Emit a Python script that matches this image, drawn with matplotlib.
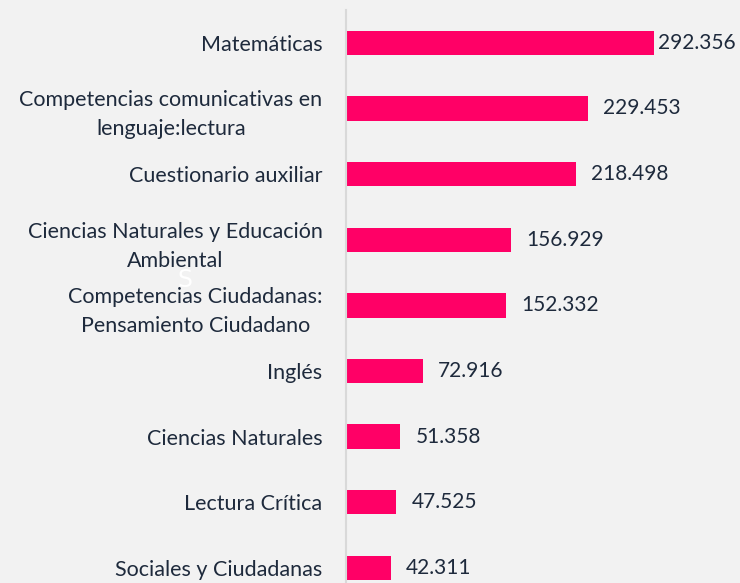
import matplotlib.pyplot as plt

categories = ["Matemáticas",
              "Competencias comunicativas en\nlenguaje:lectura",
              "Cuestionario auxiliar",
              "Ciencias Naturales y Educación\nAmbiental",
              "Competencias Ciudadanas:\nPensamiento Ciudadano",
              "Inglés",
              "Ciencias Naturales",
              "Lectura Crítica",
              "Sociales y Ciudadanas"]
values = [292356, 229453, 218498, 156929, 152332, 72916, 51358, 47525, 42311]
value_labels = ["292.356", "229.453", "218.498", "156.929", "152.332",
                "72.916", "51.358", "47.525", "42.311"]

bg = "#F2F2F2"
txt = "#1E2A3C"

plt.rcParams['font.family'] = ['Lato', 'DejaVu Sans']

fig = plt.figure(figsize=(7.4, 5.83), dpi=100, facecolor=bg)
ax = fig.add_axes([346 / 740, 0, 1 - 346 / 740, 1 - 10 / 583])
ax.set_facecolor(bg)

y = list(range(len(categories)))
ax.barh(y, values, height=0.37, color="#FF0066")

ax.set_ylim(8.23, -0.5)
ax.set_xlim(0, 292356 * 394 / 308)

for s in ["top", "right", "bottom"]:
    ax.spines[s].set_visible(False)
ax.spines["left"].set_color("#D9D9D9")
ax.spines["left"].set_linewidth(1.5)

ax.set_xticks([])
ax.set_yticks(y)
ax.set_yticklabels(categories, fontsize=15.5, color=txt, linespacing=1.55,
                   multialignment="center")
ax.tick_params(axis="y", length=0, pad=17)

# first label sits right against its bar
pads = [3, 11, 11, 11, 11, 11, 11, 11, 11]
for i, (v, lab) in enumerate(zip(values, value_labels)):
    ax.annotate(lab, (v, i), xytext=(pads[i], 0), textcoords="offset points",
                va="center", ha="left", fontsize=15, color=txt)

# stray white letter seen in the source image
fig.text(185 / 740, 1 - 280 / 583, "S", color="white", fontsize=17,
         family="DejaVu Sans", ha="center", va="center", zorder=0)

fig.savefig("out.png", dpi=100, facecolor=bg)
